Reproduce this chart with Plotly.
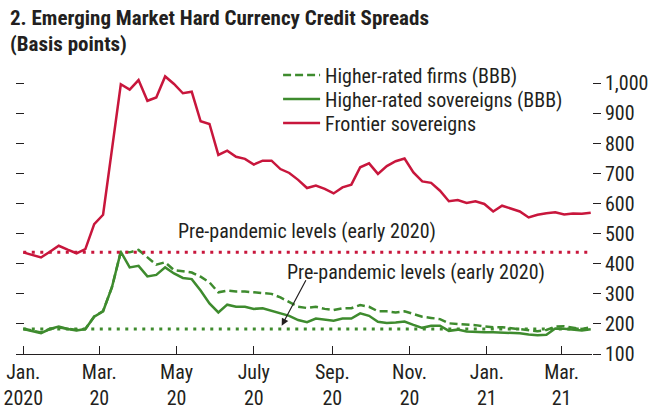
import pandas as pd
import plotly.graph_objects as go

# ---------------- data ----------------
dates = pd.date_range("2020-01-01", periods=65, freq="7D")

frontier = [438, 430, 421, 440, 460, 447, 435, 449, 532, 563, 780, 997, 979, 1011, 942, 953,
            1023, 998, 967, 972, 874, 865, 762, 776, 756, 749, 730, 743, 743, 715, 702, 679,
            652, 660, 649, 634, 654, 663, 721, 734, 699, 725, 741, 750, 704, 674, 669, 643,
            608, 612, 602, 608, 599, 574, 593, 584, 574, 554, 563, 568, 571, 564, 567, 566, 570]

sovereigns = [183, 175, 169, 183, 191, 183, 178, 183, 224, 242, 322, 440, 388, 393, 358, 363,
              388, 368, 353, 349, 311, 268, 238, 264, 257, 257, 250, 252, 244, 236, 227, 213,
              206, 218, 214, 211, 218, 218, 235, 227, 207, 203, 205, 208, 197, 187, 194, 194,
              177, 181, 175, 173, 172, 172, 171, 170, 169, 165, 162, 164, 185, 184, 180, 178, 182]

firms = [184, 178, 172, 183, 188, 184, 180, 183, 225, 243, 322, 440, 438, 446, 421, 397,
         405, 379, 375, 371, 357, 338, 305, 311, 308, 308, 305, 303, 300, 288, 272, 257,
         253, 257, 250, 246, 252, 252, 263, 257, 242, 242, 238, 242, 233, 224, 220, 216,
         202, 200, 199, 196, 192, 189, 189, 186, 183, 180, 176, 180, 191, 192, 188, 183, 189]

pre_frontier = 438
pre_bbb = 183

tick_dates = ["2020-01-01", "2020-03-01", "2020-05-01", "2020-07-01", "2020-09-01",
              "2020-11-01", "2021-01-01", "2021-03-01"]
tick_text = ["Jan.<br>2020", "Mar.<br>20", "May<br>20", "July<br>20", "Sep.<br>20",
             "Nov.<br>20", "Jan.<br>21", "Mar.<br>21"]
y_ticks = [100, 200, 300, 400, 500, 600, 700, 800, 900, 1000]

# ---------------- style ----------------
RED = "#C8163C"
GREEN = "#3E8B2E"
INK = "#231F20"
FONT = "Liberation Sans Narrow, Arial Narrow, Roboto Condensed, Roboto, sans-serif"
YR = [100, 1071]
XR = ["2019-12-26 06:00", "2021-03-25"]

fig = go.Figure()

# pre-pandemic reference levels (on left mirror axis)
fig.add_trace(go.Scatter(x=[dates[0], dates[-1]], y=[pre_frontier, pre_frontier], mode="lines",
                         line=dict(color=RED, width=3, dash="3px,5.5px"), showlegend=False,
                         yaxis="y2", hoverinfo="skip"))
fig.add_trace(go.Scatter(x=[dates[0], dates[-1]], y=[pre_bbb, pre_bbb], mode="lines",
                         line=dict(color=GREEN, width=3, dash="3px,5.5px"), showlegend=False,
                         yaxis="y2", hoverinfo="skip"))

fig.add_trace(go.Scatter(x=dates, y=firms, mode="lines", name="Higher-rated firms (BBB)",
                         line=dict(color=GREEN, width=2.5, dash="8px,4px"), legend="legend"))
fig.add_trace(go.Scatter(x=dates, y=sovereigns, mode="lines", name="Higher-rated sovereigns (BBB)",
                         line=dict(color=GREEN, width=2.5), legend="legend2"))
fig.add_trace(go.Scatter(x=dates, y=frontier, mode="lines", name="Frontier sovereigns",
                         line=dict(color=RED, width=2.5), legend="legend3"))

leg_common = dict(xanchor="left", yanchor="middle", bgcolor="rgba(0,0,0,0)", borderwidth=0,
                  font=dict(family=FONT, size=20, color=INK), itemwidth=37)

fig.update_layout(
    width=667, height=409,
    margin=dict(l=16, r=75, t=62, b=55, autoexpand=False),
    paper_bgcolor="white", plot_bgcolor="white",
    font=dict(family=FONT, size=20, color=INK),
    xaxis=dict(type="date", range=XR, tickvals=tick_dates, ticktext=tick_text,
               ticks="inside", ticklen=8, tickcolor=INK, showline=True, linecolor=INK,
               linewidth=1, showgrid=False, zeroline=False, tickangle=0, automargin=False,
               ticklabeloverflow="allow",
               tickfont=dict(family=FONT, size=20, color=INK)),
    yaxis=dict(range=YR, side="right", tickvals=y_ticks, tickformat=",", ticks="outside",
               ticklen=8, tickcolor=INK, showline=False, showgrid=False, zeroline=False,
               automargin=False, tickfont=dict(family=FONT, size=20, color=INK)),
    yaxis2=dict(range=YR, overlaying="y", side="left", tickvals=y_ticks, ticks="inside",
                ticklen=8, tickcolor=INK, showticklabels=False, showline=False,
                showgrid=False, zeroline=False, automargin=False),
    legend=dict(x=0.455, y=0.9555, **leg_common),
    legend2=dict(x=0.455, y=0.8733, **leg_common),
    legend3=dict(x=0.455, y=0.7911, **leg_common),
    showlegend=True,
)

fig.add_annotation(text="<b>2. Emerging Market Hard Currency Credit Spreads</b>",
                   xref="paper", yref="paper", x=-0.014, y=1.152, xanchor="left",
                   yanchor="middle", showarrow=False, align="left",
                   font=dict(family=FONT, size=21, color=INK))
fig.add_annotation(text="<b>(Basis points)</b>",
                   xref="paper", yref="paper", x=-0.014, y=1.063, xanchor="left",
                   yanchor="middle", showarrow=False, align="left",
                   font=dict(family=FONT, size=21, color=INK))

fig.add_annotation(text="Pre-pandemic levels (early 2020)", x="2020-08-12", y=509,
                   xref="x", yref="y", showarrow=False,
                   font=dict(family=FONT, size=20, color=INK))
fig.add_annotation(text="Pre-pandemic levels (early 2020)", x="2020-11-06", y=372,
                   xref="x", yref="y", showarrow=False,
                   font=dict(family=FONT, size=20, color=INK))
fig.add_annotation(text="", x="2020-07-23", y=194, xref="x", yref="y",
                   showarrow=True, ax=25, ay=-47, arrowhead=2, arrowsize=1.2,
                   arrowwidth=1.2, arrowcolor=INK)

# remove the browser's default 8px body margin so the figure fills the window exactly
fig.write_html("out.html", config={"displayModeBar": False},
               post_script="document.body.style.margin='0';")
